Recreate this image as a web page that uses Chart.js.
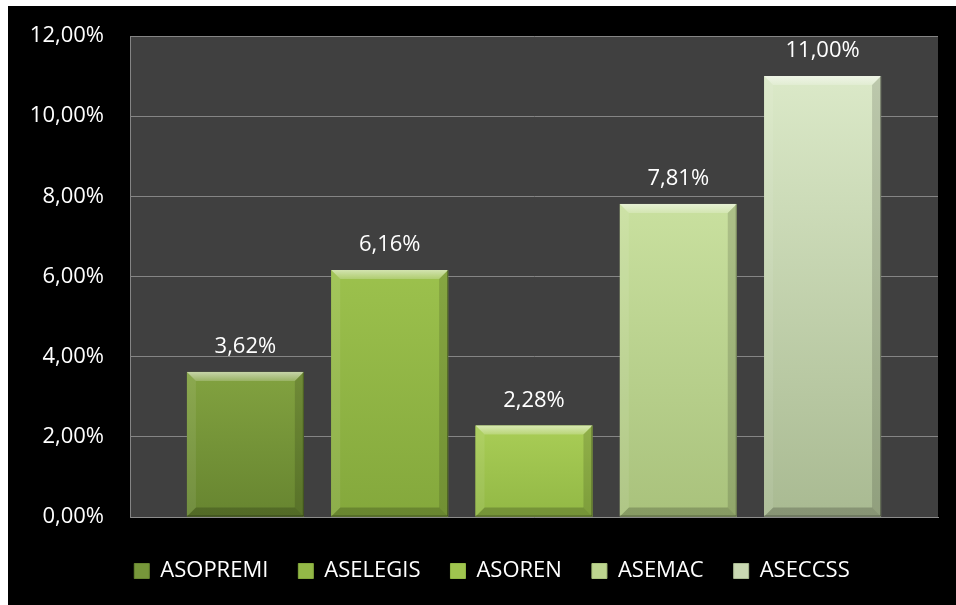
<!DOCTYPE html>
<html><head><meta charset="utf-8">
<script src="https://cdn.jsdelivr.net/npm/chart.js@4/dist/chart.umd.min.js"></script>
<style>
html,body{margin:0;padding:0;background:#fff;overflow:hidden;}
#bg{position:absolute;left:8px;top:6px;width:948px;height:599px;background:#000;}
#wrap{position:absolute;left:0;top:0;width:948px;height:586px;}
</style></head><body>
<div id="bg"><div id="wrap"><canvas id="c"></canvas></div></div>
<script>
const categories = [''];
const seriesNames = ['ASOPREMI', 'ASELEGIS', 'ASOREN', 'ASEMAC', 'ASECCSS'];
const seriesValues = [3.62, 6.16, 2.28, 7.81, 11.00];
const valueLabels = ['3,62%', '6,16%', '2,28%', '7,81%', '11,00%'];
const tickLabels = ['0,00%', '2,00%', '4,00%', '6,00%', '8,00%', '10,00%', '12,00%'];
const colorsTop = ['#82A240', '#9CC14D', '#A9CD56', '#C9E09F', '#DBE9C8'];
const colorsMid = ['#77973A', '#93B847', '#A0C54F', '#BDD58F', '#C9D8B2'];
const colorsBottom = ['#678530', '#84A83C', '#92B845', '#A9C27C', '#A9BA92'];

const FONT = "'Open Sans', sans-serif";

const plotBg = {
  id: 'plotBg',
  beforeDraw(chart) {
    const a = chart.chartArea, c = chart.ctx;
    c.save(); c.fillStyle = '#404040';
    c.fillRect(a.left, a.top, a.right - a.left, a.bottom - a.top);
    c.restore();
  }
};

const legendShift = {
  id: 'legendShift',
  afterLayout(chart) {
    if (chart.legend) { chart.legend.left += 19; chart.legend.right += 19; }
  }
};

const bevel = {
  id: 'bevel',
  afterDatasetsDraw(chart) {
    const c = chart.ctx;
    chart.data.datasets.forEach((ds, i) => {
      const meta = chart.getDatasetMeta(i);
      meta.data.forEach((el) => {
        const x0 = el.x - el.width / 2, x1 = el.x + el.width / 2;
        const y0 = el.y, y1 = el.base;
        const b = 9;
        c.save();
        const g = c.createLinearGradient(0, y0, 0, y1);
        g.addColorStop(0, colorsTop[i]);
        g.addColorStop(1, colorsBottom[i]);
        c.fillStyle = g;
        c.fillRect(x0, y0, x1 - x0, y1 - y0);
        const poly = (pts, fill) => {
          c.beginPath(); c.moveTo(pts[0][0], pts[0][1]);
          for (let k = 1; k < pts.length; k++) c.lineTo(pts[k][0], pts[k][1]);
          c.closePath(); c.fillStyle = fill; c.fill();
        };
        const tg = c.createLinearGradient(0, y0, 0, y0 + b);
        tg.addColorStop(0, 'rgba(255,255,255,0.55)');
        tg.addColorStop(1, 'rgba(255,255,255,0.2)');
        poly([[x0, y0], [x1, y0], [x1 - b, y0 + b], [x0 + b, y0 + b]], tg);
        poly([[x0, y0], [x0 + b, y0 + b], [x0 + b, y1 - b], [x0, y1]], 'rgba(255,255,255,0.08)');
        poly([[x1, y0], [x1, y1], [x1 - b, y1 - b], [x1 - b, y0 + b]], 'rgba(0,0,0,0.14)');
        poly([[x0, y1], [x0 + b, y1 - b], [x1 - b, y1 - b], [x1, y1]], 'rgba(0,0,0,0.2)');
        c.strokeStyle = 'rgba(0,0,0,0.35)'; c.lineWidth = 1;
        c.beginPath(); c.moveTo(x1 - 0.5, y0); c.lineTo(x1 - 0.5, y1 - 0.5); c.lineTo(x0, y1 - 0.5); c.stroke();
        c.fillStyle = '#ffffff';
        c.font = '22px ' + FONT;
        c.textAlign = 'center'; c.textBaseline = 'alphabetic';
        c.fillText(valueLabels[i], el.x, y0 - 19);
        c.restore();
      });
    });
  }
};

new Chart(document.getElementById('c'), {
  type: 'bar',
  data: {
    labels: categories,
    datasets: seriesNames.map((n, i) => ({
      label: n,
      data: [seriesValues[i]],
      backgroundColor: colorsMid[i],
      borderWidth: 0,
      categoryPercentage: 0.893,
      barPercentage: 0.81
    }))
  },
  options: {
    responsive: true,
    maintainAspectRatio: false,
    animation: false,
    devicePixelRatio: 1,
    layout: { padding: { left: 0, right: 18, top: 30, bottom: 0 } },
    plugins: {
      tooltip: { enabled: false },
      legend: {
        position: 'bottom',
        labels: {
          color: '#ffffff',
          font: { family: FONT, size: 22 },
          boxWidth: 15, boxHeight: 15, padding: 30,
          generateLabels: (chart) => seriesNames.map((n, i) => ({
            text: n, fillStyle: colorsMid[i], strokeStyle: colorsBottom[i], lineWidth: 1,
            fontColor: '#ffffff', datasetIndex: i, hidden: false
          }))
        }
      }
    },
    scales: {
      x: {
        grid: { display: false },
        border: { display: true, color: '#8c8c8c', width: 1 },
        ticks: { display: false },
        afterFit: (s) => { s.height = 13; s.paddingTop = 0; s.paddingBottom = 0; }
      },
      y: {
        min: 0, max: 12,
        ticks: {
          stepSize: 2, color: '#ffffff', padding: 26,
          font: { family: FONT, size: 22 },
          callback: (v, i) => tickLabels[i]
        },
        grid: { color: '#858585', drawTicks: false },
        border: { display: true, color: '#858585' },
        afterFit: (s) => { s.width = 122; s.paddingTop = 0; s.paddingBottom = 0; }
      }
    }
  },
  plugins: [plotBg, legendShift, bevel]
});
</script>
</body></html>
